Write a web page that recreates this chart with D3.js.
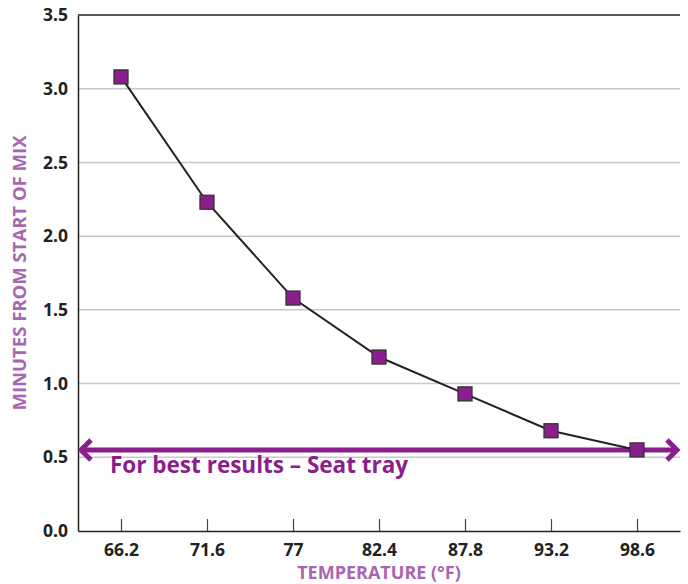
<!DOCTYPE html>
<html>
<head>
<meta charset="utf-8">
<script src="https://cdn.jsdelivr.net/npm/d3@7"></script>
<style>
  body { margin: 0; background: #fff; }
  text { font-family: "Open Sans", "Noto Sans", sans-serif; }
</style>
</head>
<body>
<div class="canvas"></div>
<script>
// data
const temps = ['66.2', '71.6', '77', '82.4', '87.8', '93.2', '98.6'];
const minutes = [3.08, 2.23, 1.58, 1.18, 0.93, 0.68, 0.55];
const yTicks = [0, 0.5, 1.0, 1.5, 2.0, 2.5, 3.0, 3.5];
const bestLevel = [0.55];
const bestLabel = ['For best results – Seat tray'];

const dims = { width: 688, height: 584 };
const margin = { top: 15, right: 8, bottom: 53, left: 78 };
const innerW = dims.width - margin.left - margin.right;
const innerH = dims.height - margin.top - margin.bottom;

const purple = '#8a1e8c';
const lightPurple = '#a866b0';

const svg = d3.select('.canvas')
    .append('svg')
    .attr('width', dims.width)
    .attr('height', dims.height);

const graph = svg.append('g')
    .attr('transform', `translate(${margin.left}, ${margin.top})`);

const x = d3.scalePoint()
    .domain(temps)
    .range([0, innerW])
    .padding(0.5);

const y = d3.scaleLinear()
    .domain([0, 3.5])
    .range([innerH, 0]);

// gridlines
graph.selectAll('line.grid')
    .data(yTicks.filter(d => d > 0 && d < 3.5))
    .enter().append('line')
    .attr('class', 'grid')
    .attr('x1', 0).attr('x2', innerW)
    .attr('y1', d => y(d)).attr('y2', d => y(d))
    .attr('stroke', '#c8c8c8')
    .attr('stroke-width', 1.5);

// top border
graph.append('line')
    .attr('x1', 0).attr('x2', innerW)
    .attr('y1', y(3.5)).attr('y2', y(3.5))
    .attr('stroke', '#222').attr('stroke-width', 1.5);

// y axis
const yAxis = d3.axisLeft(y)
    .tickValues(yTicks)
    .tickFormat(d3.format('.1f'))
    .tickSize(0)
    .tickPadding(10);

const yG = graph.append('g').call(yAxis);
yG.select('.domain').attr('stroke', '#222').attr('stroke-width', 1.5);
yG.selectAll('text')
    .attr('font-size', 17.5)
    .attr('font-weight', 'bold')
    .attr('fill', '#222');

// x axis, ticks pointing up into the plot
const xAxis = d3.axisBottom(x)
    .tickSizeInner(-12)
    .tickSizeOuter(0)
    .tickPadding(13);

const xG = graph.append('g')
    .attr('transform', `translate(0, ${innerH})`)
    .call(xAxis);
xG.select('.domain').attr('stroke', '#222').attr('stroke-width', 1.5);
xG.selectAll('line').attr('stroke', '#444').attr('stroke-width', 1.2);
xG.selectAll('text')
    .attr('font-size', 17.5)
    .attr('font-weight', 'bold')
    .attr('fill', '#222');

// best results arrow
const arrowY = y(bestLevel[0]);
const ah = 10;
graph.append('line')
    .attr('x1', 4).attr('x2', innerW - 4)
    .attr('y1', arrowY).attr('y2', arrowY)
    .attr('stroke', purple).attr('stroke-width', 5);

graph.append('path')
    .attr('d', `M${3 + ah},${arrowY - ah} L3,${arrowY} L${3 + ah},${arrowY + ah}`)
    .attr('fill', 'none').attr('stroke', purple).attr('stroke-width', 5);
graph.append('path')
    .attr('d', `M${innerW - 3 - ah},${arrowY - ah} L${innerW - 3},${arrowY} L${innerW - 3 - ah},${arrowY + ah}`)
    .attr('fill', 'none').attr('stroke', purple).attr('stroke-width', 5);

graph.append('text')
    .attr('x', 32)
    .attr('y', arrowY + 23)
    .attr('font-size', 22.5)
    .attr('font-weight', 'bold')
    .attr('fill', purple)
    .text(bestLabel[0]);

// line + markers
const line = d3.line()
    .x((d, i) => x(temps[i]))
    .y(d => y(d));

graph.append('path')
    .datum(minutes)
    .attr('d', line)
    .attr('fill', 'none')
    .attr('stroke', '#222')
    .attr('stroke-width', 2);

const ms = 14;
graph.selectAll('rect.pt')
    .data(minutes)
    .enter().append('rect')
    .attr('class', 'pt')
    .attr('x', (d, i) => x(temps[i]) - ms / 2)
    .attr('y', d => y(d) - ms / 2)
    .attr('width', ms).attr('height', ms)
    .attr('fill', purple)
    .attr('stroke', '#333')
    .attr('stroke-width', 1.3);

// axis titles
svg.append('text')
    .attr('x', margin.left + innerW / 2)
    .attr('y', 579)
    .attr('text-anchor', 'middle')
    .attr('font-size', 18)
    .attr('font-weight', 'bold')
    .attr('fill', lightPurple)
    .text('TEMPERATURE (°F)');

svg.append('text')
    .attr('transform', `translate(26, 273) rotate(-90)`)
    .attr('text-anchor', 'middle')
    .attr('font-size', 18.5)
    .attr('font-weight', 'bold')
    .attr('fill', lightPurple)
    .text('MINUTES FROM START OF MIX');
</script>
</body>
</html>
